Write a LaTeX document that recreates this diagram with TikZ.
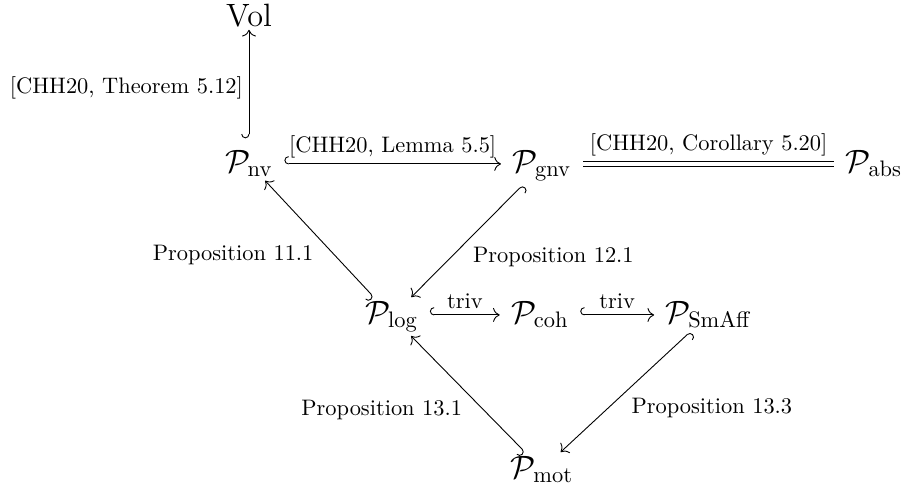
\documentclass[tikz,border=0pt]{standalone}
\usetikzlibrary{arrows.meta}
\begin{document}
\begin{tikzpicture}[x=0.446pt, y=-0.446pt,
  obj/.style={anchor=base, font=\Large, inner xsep=5pt, inner ysep=1.5pt},
  lbl/.style={font=\normalsize, inner sep=2.5pt},
  hk/.style={line width=0.4pt, {Hooks[right, scale=1.5]}-{To[scale=1.2]}},
  eq/.style={line width=0.4pt, double, double distance=1.8pt}
  ]
\useasboundingbox (0,0) rectangle (902,486);
\node[obj] (vol) at (249,26) {$\mathrm{Vol}$};
\node[obj] (nv) at (249,172) {$\mathcal{P}_{\mathrm{nv}}$};
\node[obj] (gnv) at (542,172) {$\mathcal{P}_{\mathrm{gnv}}$};
\node[obj] (abs) at (874,172) {$\mathcal{P}_{\mathrm{abs}}$};
\node[obj] (log) at (392,323) {$\mathcal{P}_{\log}$};
\node[obj] (coh) at (540,323) {$\mathcal{P}_{\mathrm{coh}}$};
\node[obj] (sm) at (709,323) {$\mathcal{P}_{\mathrm{SmAff}}$};
\node[obj] (mot) at (542,478) {$\mathcal{P}_{\mathrm{mot}}$};

\draw[hk, shorten <=3.5pt] (nv) -- (vol) node[midway, anchor=east, lbl] {[CHH20, Theorem 5.12]};
\draw[hk] ([yshift=3.6pt]nv.base east) -- ([yshift=3.6pt]gnv.base west)
  node[midway, anchor=south, lbl] {[CHH20, Lemma 5.5]};
\draw[eq] ([yshift=3.6pt]gnv.base east) -- ([yshift=3.6pt]abs.base west)
  node[midway, anchor=south, lbl, yshift=1pt] {[CHH20, Corollary 5.20]};
\draw[hk] (log) -- (nv) node[midway, anchor=north east, lbl] {Proposition 11.1};
\draw[hk] (gnv) -- (log) node[midway, anchor=north west, lbl] {Proposition 12.1};
\draw[hk] ([yshift=3.6pt]log.base east) -- ([yshift=3.6pt]coh.base west)
  node[midway, anchor=south, lbl] {triv};
\draw[hk] ([yshift=3.6pt]coh.base east) -- ([yshift=3.6pt]sm.base west)
  node[midway, anchor=south, lbl] {triv};
\draw[hk] (mot) -- (log) node[midway, anchor=north east, lbl] {Proposition 13.1};
\draw[hk] (sm) -- (mot) node[midway, anchor=north west, lbl] {Proposition 13.3};
\end{tikzpicture}
\end{document}
